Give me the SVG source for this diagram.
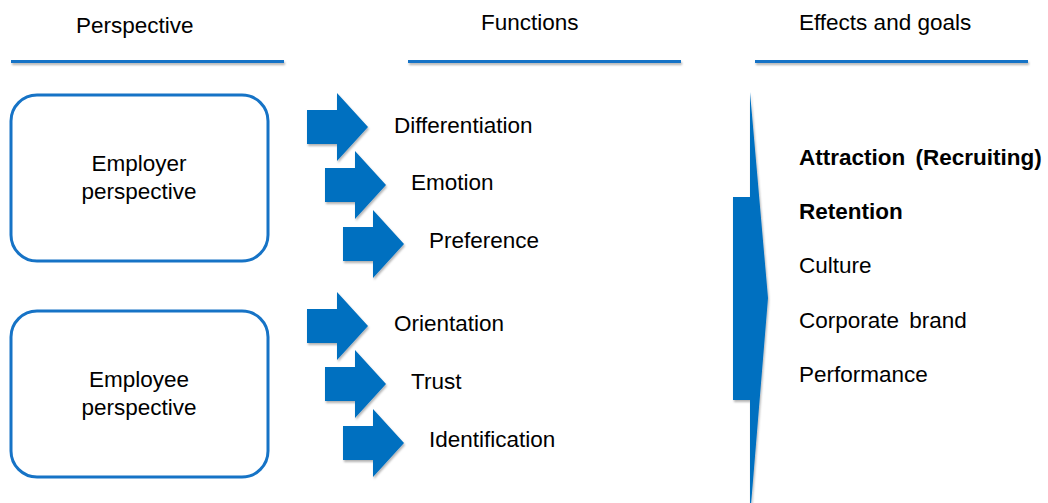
<svg xmlns="http://www.w3.org/2000/svg" width="1048" height="503" viewBox="0 0 1048 503">
  <defs>
    <filter id="sh" x="-20%" y="-20%" width="140%" height="140%">
      <feDropShadow dx="1" dy="2" stdDeviation="1.2" flood-color="#000" flood-opacity="0.3"/>
    </filter>
    <filter id="shl" filterUnits="userSpaceOnUse" x="0" y="50" width="1048" height="25">
      <feDropShadow dx="1" dy="2" stdDeviation="1" flood-color="#000" flood-opacity="0.3"/>
    </filter>
    <path id="arr" d="M0,17 H30 V0 L61,34 L30,68 V51 H0 Z"/>
  </defs>
  <style>
    text { font-family: "Liberation Sans", Arial, sans-serif; font-size: 22.5px; fill: #000; }
    .b { font-weight: bold; }
    .c { text-anchor: middle; }
    .hl { fill: #1673C6; filter: url(#shl); }
    .box { fill: #fff; stroke: #1673C6; stroke-width: 3; }
    .blue { fill: #0070C0; filter: url(#sh); }
  </style>
  <rect width="1048" height="503" fill="#fff"/>

  <g id="headers">
    <text x="76" y="33">Perspective</text>
    <text x="481" y="30">Functions</text>
    <text x="799" y="30">Effects and goals</text>
    <rect class="hl" x="11" y="60" width="273" height="3"/>
    <rect class="hl" x="408" y="60" width="273" height="3"/>
    <rect class="hl" x="755" y="60" width="273" height="3"/>
  </g>

  <g id="employer">
    <rect class="box" x="11" y="95" width="257" height="166" rx="26"/>
    <text class="c" x="139" y="171">Employer</text>
    <text class="c" x="139" y="199">perspective</text>
  </g>
  <g id="employee">
    <rect class="box" x="11" y="311" width="257" height="166" rx="26"/>
    <text class="c" x="139" y="387">Employee</text>
    <text class="c" x="139" y="415">perspective</text>
  </g>

  <g id="connectors">
    <use href="#arr" class="blue" x="307" y="93"/>
    <use href="#arr" class="blue" x="325" y="151"/>
    <use href="#arr" class="blue" x="343" y="210"/>
    <use href="#arr" class="blue" x="307" y="292"/>
    <use href="#arr" class="blue" x="325" y="350"/>
    <use href="#arr" class="blue" x="343" y="409"/>
    <path class="blue" d="M750,92 L768,298 L751,505 L750,505 V400 H733 V197 H750 Z"/>
  </g>

  <g id="functions">
    <text x="394" y="133">Differentiation</text>
    <text x="411" y="190">Emotion</text>
    <text x="429" y="248">Preference</text>
    <text x="394" y="331">Orientation</text>
    <text x="411" y="389">Trust</text>
    <text x="429" y="447">Identification</text>
  </g>

  <g id="effects">
    <text class="b" x="799" y="165" word-spacing="4">Attraction (Recruiting)</text>
    <text class="b" x="799" y="219">Retention</text>
    <text x="799" y="273">Culture</text>
    <text x="799" y="328" word-spacing="4">Corporate brand</text>
    <text x="799" y="382">Performance</text>
  </g>
</svg>
